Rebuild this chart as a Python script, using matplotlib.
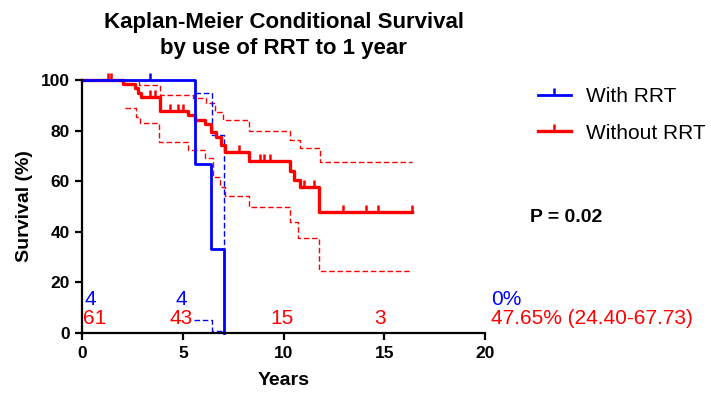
import matplotlib.pyplot as plt
from matplotlib.lines import Line2D

plt.rcParams['font.family'] = ['Liberation Sans', 'DejaVu Sans']

BLUE = '#0000ff'
RED = '#ff0000'

# Without RRT (red) - Kaplan-Meier steps
red_t = [0, 2.0, 2.6, 2.75, 2.9, 3.85, 5.25, 5.6, 6.1, 6.4, 6.65, 6.9, 7.1, 8.3, 10.3, 10.5, 10.8, 11.75, 16.4]
red_s = [100, 98.4, 96.7, 95.0, 93.4, 87.7, 86.0, 84.3, 82.5, 79.5, 77.5, 74.5, 71.4, 67.8, 64.0, 60.5, 57.6, 47.65, 47.65]
red_cens_t = [1.25, 1.4, 3.35, 3.6, 4.35, 4.75, 5.0, 7.8, 8.8, 9.0, 9.3, 11.0, 11.5, 12.95, 14.1, 14.7, 16.4]
red_cens_s = [100, 100, 93.4, 93.4, 87.7, 87.7, 87.7, 71.4, 67.8, 67.8, 67.8, 57.6, 57.6, 47.65, 47.65, 47.65, 47.65]
red_up_t = [0, 2.8, 3.85, 5.5, 6.15, 6.6, 6.98, 8.3, 10.3, 10.8, 11.8, 16.4]
red_up_s = [100, 98, 94, 92.8, 91, 87.5, 84, 79.8, 76.3, 73.3, 67.73, 67.73]
red_lo_t = [2.1, 2.65, 2.85, 3.8, 5.25, 6.1, 6.5, 6.83, 7.08, 8.3, 10.3, 10.7, 11.75, 16.4]
red_lo_s = [88.8, 85.5, 82.9, 75.6, 72.3, 69.0, 61.8, 57.8, 54.0, 50.0, 44.0, 37.6, 24.40, 24.40]

# With RRT (blue)
blue_t = [0, 5.6, 6.4, 7.03]
blue_s = [100, 66.67, 33.33, 0]
blue_cens_t = [3.35]
blue_cens_s = [100]
blue_up_t = [5.6, 6.45, 7.03]
blue_up_s = [94.7, 78.3, 0]
blue_lo_t = [5.55, 6.45, 7.03]
blue_lo_s = [5.1, 0.6, 0.6]

# numbers at risk
risk_x = [0, 5, 10, 15]
red_risk = ['61', '43', '15', '3']
blue_risk = ['4', '4', '', '']
red_final = '47.65% (24.40-67.73)'
blue_final = '0%'

fig = plt.figure(figsize=(7.11, 4.0), dpi=100)
ax = fig.add_axes([0.116, 0.1675, 0.566, 0.6325])

ax.step(red_up_t, red_up_s, where='post', color=RED, lw=1.0, ls=(0, (4, 2)), clip_on=False)
ax.step(red_lo_t, red_lo_s, where='post', color=RED, lw=1.0, ls=(0, (4, 2)), clip_on=False)
ax.step(blue_up_t, blue_up_s, where='post', color=BLUE, lw=1.0, ls=(0, (4, 2)), clip_on=False)
ax.step(blue_lo_t, blue_lo_s, where='post', color=BLUE, lw=1.0, ls=(0, (4, 2)), clip_on=False)

ax.step(red_t, red_s, where='post', color=RED, lw=2.4, clip_on=False)
ax.plot(red_cens_t, red_cens_s, ls='none', marker=2, ms=5, mew=1.8, color=RED, clip_on=False)
ax.step(blue_t, blue_s, where='post', color=BLUE, lw=2.0, clip_on=False)
ax.plot(blue_cens_t, blue_cens_s, ls='none', marker=2, ms=5, mew=1.8, color=BLUE, clip_on=False)

# at-risk numbers
red_pos = [0.6, 4.9, 9.9, 14.8]
blue_pos = [0.4, 4.9, 9.9, 14.8]
for x, lab in zip(red_pos, red_risk):
    ax.text(x, 5.9, lab, color=RED, fontsize=15, ha='center', va='center', clip_on=False)
for x, lab in zip(blue_pos, blue_risk):
    if lab:
        ax.text(x, 13.2, lab, color=BLUE, fontsize=15, ha='center', va='center', clip_on=False)
ax.text(20.3, 5.9, red_final, color=RED, fontsize=15, ha='left', va='center', clip_on=False)
ax.text(20.3, 13.2, blue_final, color=BLUE, fontsize=15, ha='left', va='center', clip_on=False)

ax.set_xlim(0, 20)
ax.set_ylim(0, 100)
ax.set_xticks([0, 5, 10, 15, 20])
ax.set_yticks([0, 20, 40, 60, 80, 100])
for s in ['top', 'right']:
    ax.spines[s].set_visible(False)
for s in ['left', 'bottom']:
    ax.spines[s].set_linewidth(1.6)
ax.tick_params(width=1.6, length=5, labelsize=12.5, pad=4)
for lab in ax.get_xticklabels() + ax.get_yticklabels():
    lab.set_fontweight('bold')

ax.set_xlabel('Years', fontsize=14, fontweight='bold', labelpad=8)
ax.set_ylabel('Survival (%)', fontsize=14, fontweight='bold', labelpad=6)
ax.set_title('Kaplan-Meier Conditional Survival\nby use of RRT to 1 year',
             fontsize=16, fontweight='bold', pad=19, linespacing=1.3)

handles = [Line2D([], [], color=BLUE, lw=2, marker=2, ms=5, mew=1.8),
           Line2D([], [], color=RED, lw=2.4, marker=2, ms=5, mew=1.8)]
fig.legend(handles, ['With RRT', 'Without RRT'], loc='upper left',
           bbox_to_anchor=(0.757, 0.783), frameon=False, fontsize=15,
           handlelength=1.55, handletextpad=0.75, labelspacing=0.85,
           borderpad=0, borderaxespad=0, numpoints=1)

fig.text(0.745, 0.455, 'P = 0.02', fontsize=14, fontweight='bold', va='center')

fig.savefig('out.png', dpi=100)
